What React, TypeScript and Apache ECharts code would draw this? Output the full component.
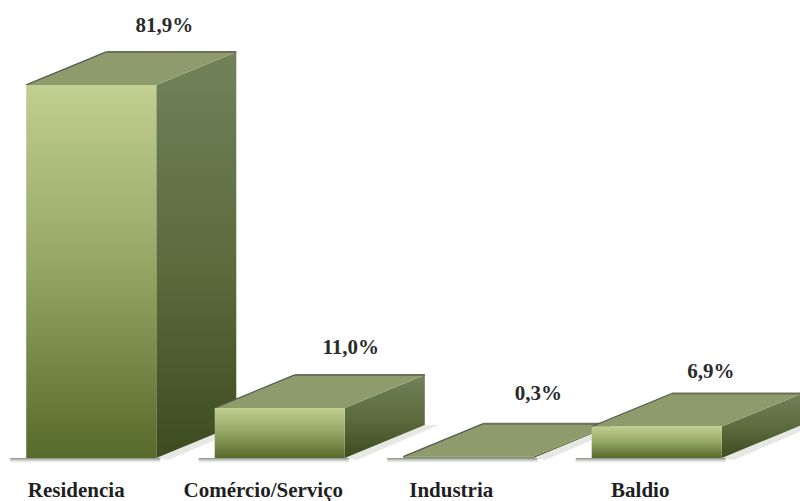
import React, { useEffect, useRef } from "react";
import * as echarts from "echarts";

const categories = ["Residencia", "Comércio/Serviço", "Industria", "Baldio"];
const shares = [81.9, 11.0, 0.3, 6.9];
const valueLabels = ["81,9%", "11,0%", "0,3%", "6,9%"];
const labelPadRight = [30, 33, 34, 33];
const valueShift = [[73, -60], [71, -61], [70, -64], [54, -56]];

const SERIF = '"Liberation Serif", "Times New Roman", serif';
const DEPTH_X = 80;
const DEPTH_Y = 33;
const grad = (stops: [number, string][], x2 = 0, y2 = 1) => ({
  type: "linear", x: 0, y: 0, x2, y2,
  colorStops: stops.map(([offset, color]) => ({ offset, color })),
});

const renderBar = (params: any, api: any) => {
  const i = api.value(0);
  const [cx, top] = api.coord([i, api.value(1)]);
  const [, base] = api.coord([i, 0]);
  const w = api.size([1, 0])[0] * 0.69;
  const l = cx - w / 2;
  const r = cx + w / 2;
  const poly = (points: number[][], fill: any, extra: any = {}) => ({
    type: "polygon", silent: true, shape: { points }, style: { fill, ...extra },
  });
  const line = (points: number[][], stroke: string, lineWidth: number) => ({
    type: "polyline", silent: true, shape: { points }, style: { stroke, lineWidth, fill: "none" },
  });
  const children: any[] = [
    poly(
      [[l - 16, base], [r + 4, base], [r + 4, base + 5], [l - 16, base + 5]],
      grad([[0, "rgba(90,90,80,0.7)"], [1, "rgba(170,170,160,0)"]])
    ),
    poly(
      [[r, base], [r + DEPTH_X, base - DEPTH_Y], [r + DEPTH_X + 14, base - DEPTH_Y], [r + 12, base + 2]],
      "rgba(175,177,165,0.3)"
    ),
    poly(
      [[r, base], [r + DEPTH_X, base - DEPTH_Y], [r + DEPTH_X, top - DEPTH_Y], [r, top]],
      grad([[0, "#72825a"], [0.55, "#5a6a3b"], [1, "#3d4b20"]])
    ),
    poly(
      [[l, top], [l + DEPTH_X, top - DEPTH_Y], [r + DEPTH_X, top - DEPTH_Y], [r, top]],
      "#8e9c6d"
    ),
    line([[l, top], [l + DEPTH_X, top - DEPTH_Y]], "#55584a", 1.2),
    line([[l + DEPTH_X, top - DEPTH_Y], [r + DEPTH_X, top - DEPTH_Y]], "#6e6e5c", 2),
    poly(
      [[l, top], [r, top], [r, base], [l, base]],
      base - top > 3 ? grad([[0, "#c1cf90"], [0.5, "#93a563"], [1, "#566a2b"]]) : "#7f8c5f"
    ),
  ];
  children.push({
    type: "text",
    silent: true,
    style: {
      x: cx + valueShift[i][0],
      y: top + valueShift[i][1],
      text: valueLabels[i],
      align: "center",
      verticalAlign: "middle",
      fill: "#2b2b2b",
      font: `bold 21px ${SERIF}`,
    },
  });
  return { type: "group", children };
};

export default function App() {
  const ref = useRef<HTMLDivElement>(null);
  useEffect(() => {
    const chart = echarts.init(ref.current!, null, { renderer: "svg" });
    chart.setOption({
      animation: false,
      backgroundColor: "#ffffff",
      grid: { left: -3, width: 754, top: 48, height: 410, outerBoundsMode: "none" },
      xAxis: {
        type: "category",
        data: categories.map((value, i) => ({
          value,
          textStyle: { padding: [0, labelPadRight[i], 0, 0] },
        })),
        axisLine: { show: false },
        axisTick: { show: false },
        axisLabel: {
          interval: 0,
          margin: 21,
          color: "#1f1f1f",
          fontFamily: SERIF,
          fontWeight: "bold",
          fontSize: 21,
        },
      },
      yAxis: { type: "value", min: 0, max: 90, show: false },
      series: [
        {
          type: "custom",
          renderItem: renderBar,
          clip: false,
          encode: { x: 0, y: 1 },
          data: shares.map((v, i) => [i, v]),
        },
      ],
    });
    return () => chart.dispose();
  }, []);
  return <div ref={ref} style={{ position: "fixed", left: 0, top: 0, width: 800, height: 501 }} />;
}
